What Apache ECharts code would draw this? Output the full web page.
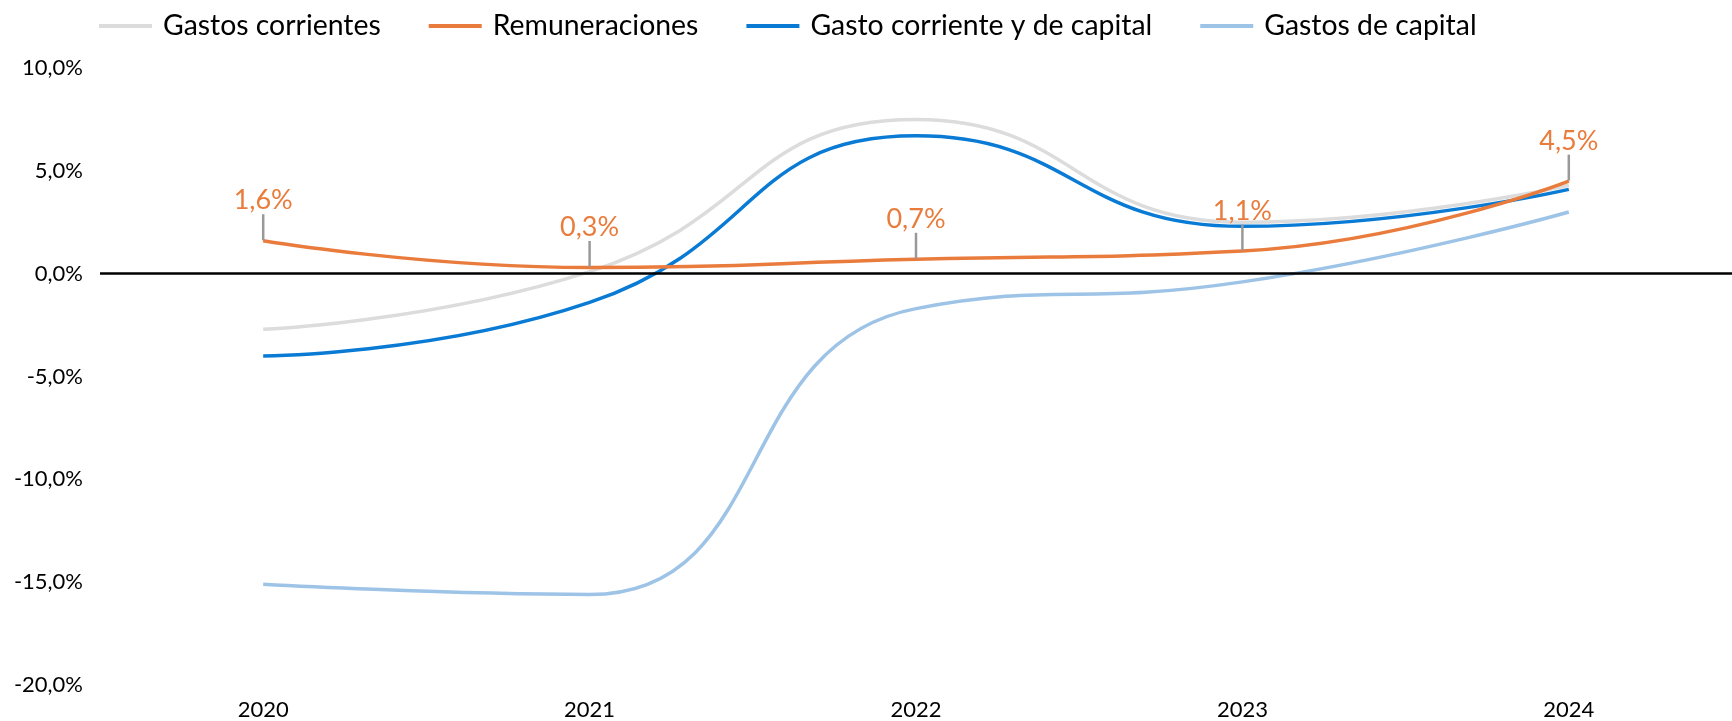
<!DOCTYPE html>
<html>
<head>
<meta charset="utf-8">
<script src="https://cdn.jsdelivr.net/npm/echarts@6/dist/echarts.min.js"></script>
<style>
  html, body { margin: 0; padding: 0; background: #fff; }
  #chart { width: 1732px; height: 721px; }
</style>
</head>
<body>
<div id="chart"></div>
<script>
// datos (%)
const years = ['2020', '2021', '2022', '2023', '2024']
const gastosCorrientes = [-2.7, 0.1, 7.5, 2.5, 4.3]
const remuneraciones = [1.6, 0.3, 0.7, 1.1, 4.5]
const gastoCorrienteCapital = [-4.0, -1.4, 6.7, 2.3, 4.1]
const gastosCapital = [-15.1, -15.6, -1.7, -0.4, 3.0]

const FONT = 'Lato'
const ORANGE = '#e97c3c'

const fmtPct = v => v.toFixed(1).replace('.', ',') + '%'

const chart = echarts.init(document.getElementById('chart'))

function lineSeries(name, data, color, extra) {
  return Object.assign({
    name: name,
    type: 'line',
    data: data,
    smooth: 0.5,
    symbol: 'none',
    lineStyle: { width: 3.5, color: color },
    itemStyle: { color: color }
  }, extra || {})
}

chart.setOption({
  animation: false,
  textStyle: { fontFamily: FONT },
  legend: {
    left: 99,
    top: 12,
    padding: 0,
    icon: 'rect',
    itemWidth: 53,
    itemHeight: 4,
    itemGap: 48,
    textStyle: { fontFamily: FONT, fontSize: 28.4, color: '#000', padding: [0, 0, 0, 6] },
    data: ['Gastos corrientes', 'Remuneraciones', 'Gasto corriente y de capital', 'Gastos de capital']
  },
  grid: { left: 100, right: 0, top: 68, bottom: 36, containLabel: false },
  xAxis: {
    type: 'category',
    data: years,
    boundaryGap: true,
    axisLine: { show: false },
    axisTick: { show: false },
    axisLabel: { fontFamily: FONT, fontSize: 22, color: '#000', margin: 14 }
  },
  yAxis: {
    type: 'value',
    min: -20,
    max: 10,
    interval: 5,
    axisLine: { show: false },
    axisTick: { show: false },
    splitLine: { show: false },
    axisLabel: { fontFamily: FONT, fontSize: 22, color: '#000', margin: 17, formatter: fmtPct }
  },
  series: [
    lineSeries('Gastos corrientes', gastosCorrientes, '#dcdcdc', {
      markLine: {
        silent: true,
        symbol: 'none',
        label: { show: false },
        lineStyle: { color: '#000', width: 2.5, type: 'solid' },
        data: [{ yAxis: 0 }]
      }
    }),
    lineSeries('Gastos de capital', gastosCapital, '#9dc3e6'),
    lineSeries('Gasto corriente y de capital', gastoCorrienteCapital, '#0a7bd4'),
    lineSeries('Remuneraciones', remuneraciones, ORANGE, {
      symbol: 'circle',
      symbolSize: 1,
      showSymbol: true,
      label: {
        show: true,
        position: 'top',
        distance: 2,
        fontFamily: FONT,
        fontSize: 27,
        color: ORANGE,
        formatter: p => fmtPct(p.value)
      },
      labelLayout: { dy: -24 },
      labelLine: { show: true, lineStyle: { color: '#999999', width: 2.5 } }
    })
  ]
})

window.addEventListener('resize', () => chart.resize())
</script>
</body>
</html>
